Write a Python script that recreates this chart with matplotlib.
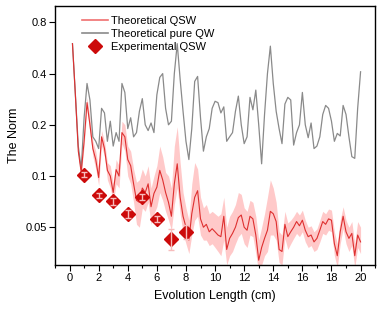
import matplotlib
matplotlib.use("Agg")
import matplotlib.pyplot as plt
from matplotlib.lines import Line2D
from matplotlib.ticker import FixedLocator, NullLocator, MultipleLocator

plt.rcParams['font.family'] = ['Liberation Sans', 'DejaVu Sans']

# evolution length (cm), one sample every 0.2 cm
length = [round(0.2 * k, 1) for k in range(1, 101)]

qsw = [0.60, 0.30, 0.14, 0.105, 0.16, 0.27, 0.2, 0.145, 0.125, 0.098,
       0.17, 0.145, 0.108, 0.1, 0.08, 0.109, 0.1, 0.18, 0.17, 0.125,
       0.115, 0.09, 0.072, 0.07, 0.085, 0.08, 0.09, 0.066, 0.079, 0.086,
       0.108, 0.095, 0.08, 0.07, 0.058, 0.09, 0.118, 0.075, 0.058, 0.05,
       0.042, 0.06, 0.075, 0.082, 0.056, 0.05, 0.052, 0.047, 0.049, 0.047,
       0.045, 0.044, 0.058, 0.037, 0.043, 0.046, 0.05, 0.057, 0.059, 0.05,
       0.048, 0.058, 0.056, 0.045, 0.032, 0.038, 0.043, 0.048, 0.062, 0.06,
       0.054, 0.037, 0.036, 0.052, 0.044, 0.047, 0.05, 0.054, 0.051, 0.055,
       0.048, 0.044, 0.045, 0.041, 0.043, 0.048, 0.054, 0.052, 0.056, 0.055,
       0.04, 0.034, 0.047, 0.058, 0.047, 0.043, 0.046, 0.034, 0.045, 0.041]

qsw_lo = [0.60, 0.29, 0.135, 0.10, 0.15, 0.25, 0.18, 0.13, 0.11, 0.088,
          0.15, 0.13, 0.095, 0.085, 0.07, 0.09, 0.085, 0.155, 0.14, 0.1,
          0.09, 0.07, 0.052, 0.05, 0.065, 0.062, 0.07, 0.052, 0.06, 0.066,
          0.08, 0.072, 0.062, 0.055, 0.048, 0.068, 0.085, 0.06, 0.046, 0.04,
          0.035, 0.045, 0.055, 0.058, 0.045, 0.042, 0.042, 0.039, 0.04, 0.038,
          0.036, 0.034, 0.042, 0.03, 0.034, 0.036, 0.04, 0.044, 0.046, 0.04,
          0.038, 0.045, 0.044, 0.035, 0.027, 0.03, 0.034, 0.036, 0.045, 0.045,
          0.042, 0.031, 0.03, 0.043, 0.037, 0.04, 0.043, 0.046, 0.044, 0.047,
          0.041, 0.038, 0.039, 0.036, 0.037, 0.041, 0.046, 0.045, 0.048, 0.047,
          0.034, 0.029, 0.04, 0.049, 0.04, 0.036, 0.039, 0.029, 0.038, 0.035]

qsw_hi = [0.60, 0.31, 0.145, 0.11, 0.17, 0.29, 0.22, 0.16, 0.14, 0.11,
          0.185, 0.16, 0.12, 0.115, 0.09, 0.125, 0.115, 0.21, 0.2, 0.15,
          0.14, 0.11, 0.092, 0.095, 0.11, 0.1, 0.115, 0.085, 0.1, 0.115,
          0.15, 0.13, 0.105, 0.1, 0.085, 0.15, 0.195, 0.12, 0.08, 0.065,
          0.055, 0.09, 0.12, 0.11, 0.075, 0.065, 0.068, 0.06, 0.062, 0.06,
          0.058, 0.06, 0.075, 0.05, 0.058, 0.062, 0.068, 0.08, 0.078, 0.065,
          0.062, 0.072, 0.07, 0.058, 0.042, 0.05, 0.06, 0.075, 0.095, 0.085,
          0.07, 0.047, 0.045, 0.062, 0.053, 0.055, 0.058, 0.062, 0.059, 0.063,
          0.055, 0.05, 0.051, 0.047, 0.049, 0.055, 0.062, 0.06, 0.064, 0.063,
          0.047, 0.04, 0.055, 0.066, 0.055, 0.05, 0.054, 0.04, 0.054, 0.05]

pure_qw = [0.60, 0.30, 0.15, 0.11, 0.22, 0.35, 0.28, 0.17, 0.16, 0.145,
           0.25, 0.235, 0.16, 0.21, 0.15, 0.18, 0.16, 0.35, 0.31, 0.19,
           0.22, 0.17, 0.18, 0.24, 0.285, 0.2, 0.185, 0.205, 0.18, 0.3,
           0.38, 0.40, 0.25, 0.2, 0.21, 0.4, 0.6, 0.37, 0.24, 0.16,
           0.125, 0.19, 0.36, 0.385, 0.22, 0.14, 0.17, 0.19, 0.25, 0.275,
           0.27, 0.235, 0.255, 0.16, 0.17, 0.18, 0.24, 0.295, 0.2, 0.155,
           0.17, 0.29, 0.245, 0.32, 0.2, 0.118, 0.23, 0.4, 0.58, 0.35,
           0.24, 0.19, 0.155, 0.265, 0.29, 0.28, 0.152, 0.18, 0.2, 0.31,
           0.2, 0.168, 0.205, 0.145, 0.15, 0.17, 0.23, 0.26, 0.25, 0.21,
           0.16, 0.178, 0.172, 0.26, 0.23, 0.17, 0.13, 0.127, 0.25, 0.41]

exp_x = [1, 2, 3, 4, 5, 6, 7, 8]
exp_y = [0.102, 0.077, 0.071, 0.060, 0.075, 0.056, 0.0425, 0.047]
exp_err = [0.003, 0.003, 0.003, 0.003, 0.003, 0.002, 0.006, 0.0045]

yticks = [0.05, 0.1, 0.2, 0.4, 0.8]
ytick_labels = ['0.05', '0.1', '0.2', '0.4', '0.8']

fig = plt.figure(figsize=(3.82, 3.11), dpi=100)
ax = fig.add_axes([0.144, 0.148, 0.838, 0.833])

ax.fill_between(length, qsw_lo, qsw_hi, color='#ffbcbc', alpha=0.8, linewidth=0)
ax.plot(length, pure_qw, color='#8a8a8a', lw=0.9)
ax.plot(length, qsw, color='#de3030', lw=0.8)
ax.plot(exp_x, exp_y, 'D', color='#cc0a0a', ms=7, zorder=5)
# error bars sit on top of the markers, pale so they show through
ax.errorbar(exp_x, exp_y, yerr=exp_err, fmt='none', ecolor='#f7bcbc',
            elinewidth=1, capsize=2.5, capthick=1, zorder=6)

ax.set_yscale('log')
ax.set_ylim(0.03, 1.0)
ax.set_xlim(-1, 21)
ax.yaxis.set_major_locator(FixedLocator(yticks))
ax.set_yticklabels(ytick_labels)
ax.yaxis.set_minor_locator(NullLocator())
ax.xaxis.set_major_locator(MultipleLocator(2))
ax.xaxis.set_minor_locator(MultipleLocator(1))
ax.tick_params(which='major', direction='out', length=4, width=0.8, labelsize=8, pad=2)
ax.tick_params(which='minor', direction='out', length=2, width=0.8)
for s in ax.spines.values():
    s.set_linewidth(1.0)

ax.set_xlabel('Evolution Length (cm)', fontsize=9, labelpad=5)
ax.set_ylabel('The Norm', fontsize=9, labelpad=4)

handles = [Line2D([], [], color='#f07070', lw=1.2),
           Line2D([], [], color='#8a8a8a', lw=1.2),
           Line2D([], [], marker='D', color='#cc0a0a', ls='none', ms=7)]
labels = ['Theoretical QSW', 'Theoretical pure QW', 'Experimental QSW']
ax.legend(handles, labels, loc='upper left', bbox_to_anchor=(0.06, 0.99), frameon=False,
          fontsize=8, handlelength=2.3, handletextpad=0.3, labelspacing=0.25,
          borderaxespad=0.3)

fig.savefig('out.png', dpi=100)
